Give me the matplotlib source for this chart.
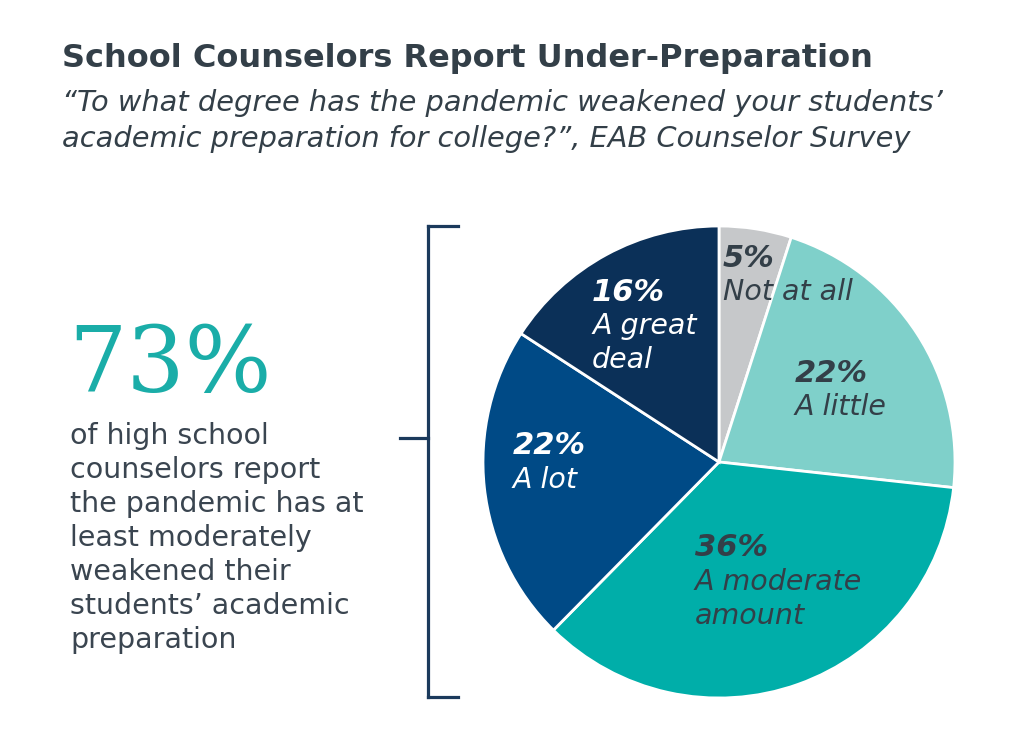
import matplotlib.pyplot as plt
from matplotlib.lines import Line2D

plt.rcParams['font.family'] = ['DejaVu Sans']

# survey shares, clockwise from 12 o'clock
pcts = [5, 22, 36, 22, 16]
answers = [['Not at all'], ['A little'], ['A moderate', 'amount'], ['A lot'], ['A great', 'deal']]
colors = ['#C6C8CA', '#7FD0CA', '#00AEA9', '#004A86', '#0B3058']
label_colors = ['#333F48', '#333F48', '#333F48', 'white', 'white']
# label anchor (left edge, centre of the % line) in pie data units
label_pos = [(0.017, 0.864), (0.322, 0.377), (-0.102, -0.364), (-0.873, 0.068), (-0.538, 0.720)]

headline = '73%'
blurb = ['of high school', 'counselors report', 'the pandemic has at',
         'least moderately', 'weakened their', 'students\u2019 academic', 'preparation']

W, H = 1024, 753
fig = plt.figure(figsize=(W / 100, H / 100), dpi=100)
fig.patch.set_facecolor('white')

dark = '#333F48'
fig.text(62 / W, 1 - 58 / H, 'School Counselors Report Under-Preparation',
         fontsize=23, fontweight='bold', color=dark, va='center', ha='left')
fig.text(62 / W, 1 - 103 / H, '\u201cTo what degree has the pandemic weakened your students\u2019',
         fontsize=20.8, style='italic', color=dark, va='center', ha='left')
fig.text(62 / W, 1 - 139 / H, 'academic preparation for college?\u201d, EAB Counselor Survey',
         fontsize=20.8, style='italic', color=dark, va='center', ha='left')

# big number + explanation
fig.text(68 / W, 1 - 392 / H, headline, fontsize=66, color='#1AADA8',
         family='DejaVu Serif', va='baseline', ha='left')
for i, line in enumerate(blurb):
    fig.text(70 / W, 1 - (436 + 34 * i) / H, line, fontsize=20.5, color='#3A4550',
             va='center', ha='left')

# bracket
bc = '#1B3A5C'
lw = 2.3
fig.add_artist(Line2D([428 / W, 428 / W], [1 - 226 / H, 1 - 697 / H], color=bc, lw=lw))
fig.add_artist(Line2D([428 / W, 458 / W], [1 - 226 / H, 1 - 226 / H], color=bc, lw=lw))
fig.add_artist(Line2D([428 / W, 458 / W], [1 - 697 / H, 1 - 697 / H], color=bc, lw=lw))
fig.add_artist(Line2D([400 / W, 428 / W], [1 - 438 / H, 1 - 438 / H], color=bc, lw=lw))

# pie
cx, cy, r = 719, 462, 236
ax = fig.add_axes([(cx - r) / W, (H - cy - r) / H, 2 * r / W, 2 * r / H])
ax.pie(pcts, colors=colors, startangle=90, counterclock=False, radius=1,
       wedgeprops=dict(edgecolor='white', linewidth=2))
ax.set_xlim(-1, 1)
ax.set_ylim(-1, 1)
ax.set_aspect('equal')
ax.axis('off')

step = 34 / r
for p, a, c, (x, y) in zip(pcts, answers, label_colors, label_pos):
    ax.text(x, y, f'{p}%', fontsize=22, fontweight='bold', style='italic',
            color=c, ha='left', va='center')
    for k, line in enumerate(a):
        ax.text(x, y - (k + 1) * step, line, fontsize=20.5, style='italic', color=c,
                ha='left', va='center')

fig.savefig('out.png', dpi=100, facecolor='white')
